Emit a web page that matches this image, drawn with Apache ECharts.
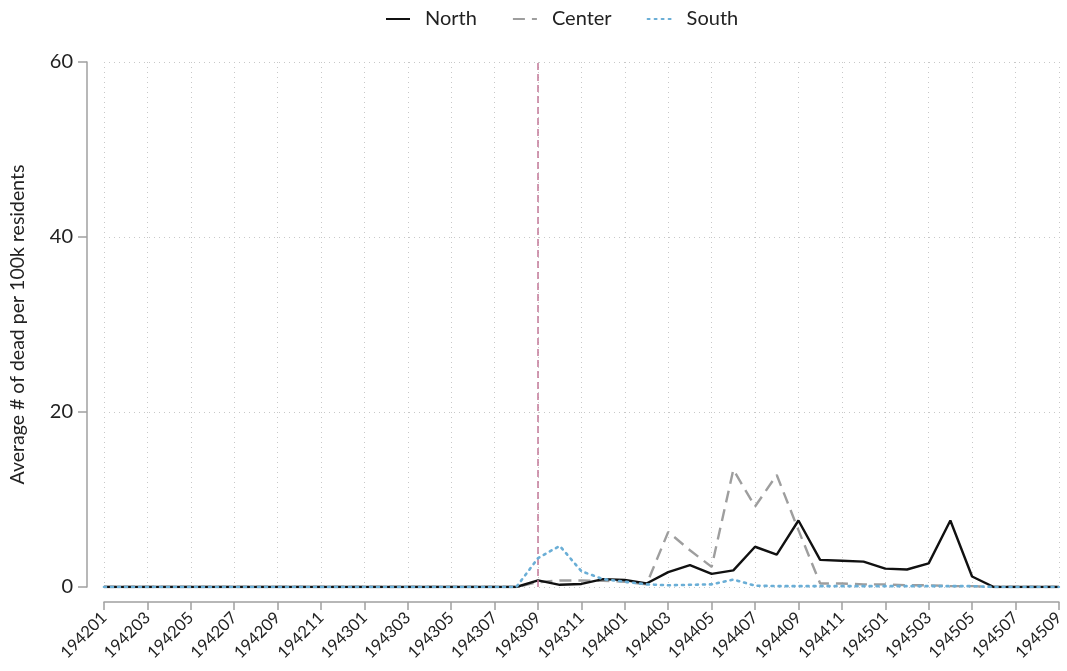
<!DOCTYPE html>
<html>
<head>
<meta charset="utf-8">
<script src="https://cdn.jsdelivr.net/npm/echarts@6/dist/echarts.min.js"></script>
<style>
  html, body { margin: 0; padding: 0; background: #fff; }
  #chart { width: 1067px; height: 671px; }
</style>
</head>
<body>
<div id="chart"></div>
<script>
// Monthly periods, January 1942 to September 1945
const months = [
  '194201','194202','194203','194204','194205','194206','194207','194208','194209','194210','194211','194212',
  '194301','194302','194303','194304','194305','194306','194307','194308','194309','194310','194311','194312',
  '194401','194402','194403','194404','194405','194406','194407','194408','194409','194410','194411','194412',
  '194501','194502','194503','194504','194505','194506','194507','194508','194509'
];

// Average number of dead per 100k residents, by macro-area
const north = [
  0,0,0,0,0,0,0,0,0,0,0,0,
  0,0,0,0,0,0,0,0,0.75,0.25,0.35,0.9,
  0.8,0.4,1.7,2.5,1.5,1.9,4.6,3.7,7.6,3.1,3.0,2.9,
  2.1,2.0,2.7,7.6,1.2,0,0,0,0
];
const center = [
  0,0,0,0,0,0,0,0,0,0,0,0,
  0,0,0,0,0,0,0,0,0.55,0.75,0.75,0.7,
  0.6,0.3,6.3,4.2,2.3,13.4,9.2,12.8,6.5,0.4,0.4,0.3,
  0.3,0.2,0.2,0.1,0.1,0,0,0,0
];
const south = [
  0,0,0,0,0,0,0,0,0,0,0,0,
  0,0,0,0,0,0,0,0,3.3,4.7,1.8,0.9,
  0.6,0.3,0.2,0.25,0.3,0.85,0.15,0.1,0.1,0.1,0.1,0.1,
  0.1,0.1,0.1,0.1,0.1,0,0,0,0
];

const yTicks = [0, 20, 40, 60];
const eventMonth = '194309';

const FONT = 'Lato';
const chart = echarts.init(document.getElementById('chart'));

chart.setOption({
  animation: false,
  textStyle: { fontFamily: FONT, color: '#222' },
  legend: {
    top: 4,
    left: 380,
    itemWidth: 24,
    itemHeight: 12,
    itemGap: 35,
    itemStyle: { opacity: 0 },
    textStyle: { fontFamily: FONT, fontSize: 20, color: '#222', padding: [0, 0, 0, 10] },
    data: ['North', 'Center', 'South']
  },
  grid: { left: 102, right: 8, top: 62, bottom: 84, containLabel: false },
  xAxis: {
    type: 'category',
    data: months,
    boundaryGap: false,
    offset: 15,
    axisLine: { onZero: false, lineStyle: { color: '#a0a0a0', width: 1.5 } },
    axisTick: { interval: 1, length: 8, lineStyle: { color: '#a0a0a0', width: 1.5 } },
    axisLabel: { interval: 1, rotate: 45, fontSize: 16.5, color: '#222', margin: 13, fontFamily: FONT },
    splitLine: { show: true, interval: 1, lineStyle: { color: '#c8c8c8', type: [1, 4], width: 1 } }
  },
  yAxis: {
    type: 'value',
    min: yTicks[0],
    max: yTicks[yTicks.length - 1],
    interval: yTicks[1] - yTicks[0],
    offset: 17,
    name: 'Average # of dead per 100k residents',
    nameLocation: 'middle',
    nameGap: 59,
    nameTextStyle: { fontSize: 19.5, color: '#222', fontFamily: FONT },
    axisLine: { show: true, lineStyle: { color: '#a0a0a0', width: 1.5 } },
    axisTick: { show: true, length: 9, lineStyle: { color: '#a0a0a0', width: 1.5 } },
    axisLabel: { fontSize: 20, color: '#222', margin: 14, fontFamily: FONT },
    splitLine: { show: true, lineStyle: { color: '#c8c8c8', type: [1, 4], width: 1 } }
  },
  series: [
    {
      name: 'North', type: 'line', data: north, symbol: 'none', z: 4,
      itemStyle: { color: '#111' },
      lineStyle: { color: '#111', width: 2.4, type: 'solid' },
      markLine: {
        silent: true, symbol: 'none',
        label: { show: false },
        lineStyle: { color: '#c27898', type: [7, 4], width: 1.5 },
        data: [{ xAxis: eventMonth }]
      }
    },
    {
      name: 'Center', type: 'line', data: center, symbol: 'none', z: 3,
      itemStyle: { color: '#9e9e9e' },
      lineStyle: { color: '#9e9e9e', width: 2.4, type: [12, 7] }
    },
    {
      name: 'South', type: 'line', data: south, symbol: 'none', z: 5,
      itemStyle: { color: '#6aaed6' },
      lineStyle: { color: '#6aaed6', width: 2.6, type: [2, 5], cap: 'round' }
    }
  ]
});
</script>
</body>
</html>
